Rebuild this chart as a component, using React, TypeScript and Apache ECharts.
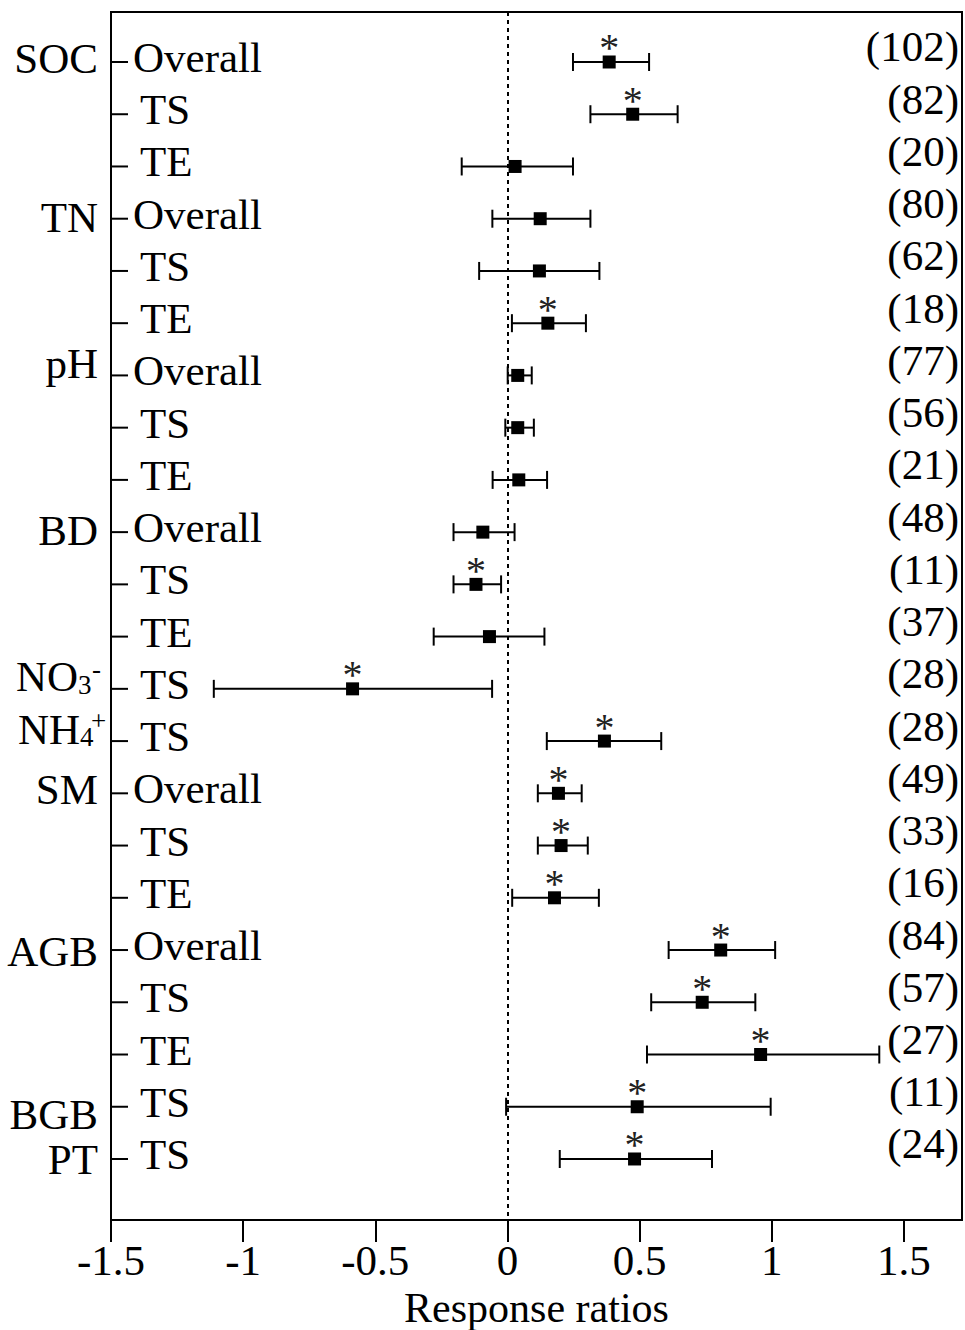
import React, { useEffect, useRef } from 'react';
import * as echarts from 'echarts';

// ---------- data ----------
const rowLabels = ['Overall', 'TS', 'TE', 'Overall', 'TS', 'TE', 'Overall', 'TS', 'TE', 'Overall', 'TS', 'TE', 'TS', 'TS', 'Overall', 'TS', 'TE', 'Overall', 'TS', 'TE', 'TS', 'TS'];
const means = [0.385, 0.474, 0.029, 0.124, 0.121, 0.153, 0.039, 0.039, 0.043, -0.093, -0.119, -0.068, -0.586, 0.367, 0.193, 0.203, 0.178, 0.807, 0.737, 0.958, 0.491, 0.481];
const lowerCI = [0.248, 0.314, -0.173, -0.057, -0.107, 0.017, 0.001, -0.008, -0.056, -0.204, -0.204, -0.279, -1.111, 0.149, 0.115, 0.115, 0.018, 0.61, 0.544, 0.528, -0.005, 0.198];
const upperCI = [0.536, 0.644, 0.248, 0.314, 0.348, 0.297, 0.092, 0.1, 0.15, 0.027, -0.024, 0.14, -0.058, 0.582, 0.281, 0.304, 0.346, 1.013, 0.938, 1.407, 0.996, 0.774];
const sampleSizes = [102, 82, 20, 80, 62, 18, 77, 56, 21, 48, 11, 37, 28, 28, 49, 33, 16, 84, 57, 27, 11, 24];
const significant = [true, true, false, false, false, true, false, false, false, false, true, false, true, true, true, true, true, true, true, true, true, true];
const groupNames = ['SOC', 'TN', 'pH', 'BD', 'NO', 'NH', 'SM', 'AGB', 'BGB', 'PT'];
const groupSubscripts = ['', '', '', '', '3', '4', '', '', '', ''];
const groupSuperscripts = ['', '', '', '', '-', '+', '', '', '', ''];
const groupStartRows = [0, 3, 6, 9, 12, 13, 14, 17, 20, 21];
const xTicks = [-1.5, -1, -0.5, 0, 0.5, 1, 1.5];
const xMin = -1.5;
const xMax = 1.72;
const axisTitle = 'Response ratios';

// ---------- style ----------
const FONT = '"Liberation Serif", "Times New Roman", Times, serif';
const groupLabelShift = [-3, -1, -12, -2, -12, -12, -4, 1, 8, 1];

export default function App() {
  const ref = useRef<HTMLDivElement>(null);

  useEffect(() => {
    if (!ref.current) return;
    const chart = echarts.init(ref.current, undefined, { renderer: 'svg' });

    const rowData = rowLabels.map((_, i) => [lowerCI[i], upperCI[i], means[i], i]);
    const pointData = rowLabels.map((_, i) => [means[i], i]);

    const renderItem = (params: any, api: any) => {
      const i = api.value(3) as number;
      const pLo = api.coord([api.value(0), i]);
      const y = pLo[1];
      const xLo = pLo[0];
      const xHi = api.coord([api.value(1), i])[0];
      const xMean = api.coord([api.value(2), i])[0];
      const gl = params.coordSys.x;
      const gr = params.coordSys.x + params.coordSys.width;
      const ls = { stroke: '#000', lineWidth: 2 };
      const children: any[] = [
        { type: 'line', shape: { x1: xLo, y1: y, x2: xHi, y2: y }, style: ls },
        { type: 'line', shape: { x1: xLo, y1: y - 9, x2: xLo, y2: y + 9 }, style: ls },
        { type: 'line', shape: { x1: xHi, y1: y - 9, x2: xHi, y2: y + 9 }, style: ls },
        { type: 'line', shape: { x1: gl, y1: y, x2: gl + 17, y2: y }, style: ls },
        {
          type: 'text', x: gl + (rowLabels[i] === 'Overall' ? 22 : 29), y: y - 4.5,
          style: { text: rowLabels[i], fontSize: 43, fontFamily: FONT, fill: '#000', align: 'left', verticalAlign: 'middle' },
        },
        {
          type: 'text', x: gr - 3, y: y - 15,
          style: { text: '(' + sampleSizes[i] + ')', fontSize: 43, fontFamily: FONT, fill: '#000', align: 'right', verticalAlign: 'middle' },
        },
      ];
      if (significant[i]) {
        children.push({
          type: 'text', x: xMean, y: y - 14,
          style: { text: '*', fontSize: 40, fontFamily: FONT, fill: '#222', align: 'center', verticalAlign: 'middle' },
        });
      }
      const g = groupStartRows.indexOf(i);
      if (g >= 0) {
        const gy = y + groupLabelShift[g];
        if (groupSubscripts[g]) {
          const baseRight = g === 4 ? gl - 33 : gl - 31;
          children.push({
            type: 'text', x: baseRight, y: gy,
            style: { text: groupNames[g], fontSize: 43, fontFamily: FONT, fill: '#000', align: 'right', verticalAlign: 'middle' },
          });
          children.push({
            type: 'text', x: baseRight, y: gy + 8,
            style: { text: groupSubscripts[g], fontSize: 27, fontFamily: FONT, fill: '#000', align: 'left', verticalAlign: 'middle' },
          });
          children.push({
            type: 'text', x: g === 4 ? gl - 19 : gl - 20, y: gy - 8,
            style: { text: groupSuperscripts[g], fontSize: 27, fontFamily: FONT, fill: '#000', align: 'left', verticalAlign: 'middle' },
          });
        } else {
          children.push({
            type: 'text', x: gl - 13, y: gy,
            style: { text: groupNames[g], fontSize: 43, fontFamily: FONT, fill: '#000', align: 'right', verticalAlign: 'middle' },
          });
        }
      }
      return { type: 'group', children };
    };

    chart.setOption({
      animation: false,
      backgroundColor: '#fff',
      grid: {
        left: 111, right: 3, top: 12, bottom: 110,
        show: true, borderColor: '#000', borderWidth: 2, backgroundColor: 'transparent',
        containLabel: false,
        outerBoundsMode: 'none',
      },
      xAxis: {
        type: 'value',
        min: xMin,
        max: xMax,
        interval: 0.5,
        name: axisTitle,
        nameLocation: 'middle',
        nameGap: 53,
        nameTextStyle: { fontSize: 42, fontFamily: FONT, color: '#000', lineHeight: 42 },
        axisLine: { show: true, onZero: false, lineStyle: { color: '#000', width: 2 } },
        axisTick: { show: true, inside: false, length: 22, lineStyle: { color: '#000', width: 2 }, customValues: xTicks },
        axisLabel: {
          show: true, margin: 19, fontSize: 43, fontFamily: FONT, color: '#000', lineHeight: 43,
          customValues: xTicks,
          formatter: (v: number) => String(v),
        },
        splitLine: { show: false },
      },
      yAxis: {
        type: 'value',
        min: -0.957,
        max: 22.168,
        inverse: true,
        show: false,
        axisLine: { onZero: false },
        splitLine: { show: false },
      },
      series: [
        {
          type: 'custom',
          clip: false,
          z: 2,
          data: rowData,
          encode: { x: [0, 1, 2], y: 3 },
          renderItem,
          silent: true,
        },
        {
          type: 'scatter',
          z: 3,
          symbol: 'rect',
          symbolSize: 13,
          itemStyle: { color: '#000', opacity: 1 },
          data: pointData,
          silent: true,
          markLine: {
            silent: true,
            symbol: 'none',
            label: { show: false },
            lineStyle: { color: '#000', width: 2, type: [4, 4], opacity: 1 },
            data: [{ xAxis: 0 }],
          },
        },
      ],
    });

    return () => chart.dispose();
  }, []);

  return (
    <div
      ref={ref}
      style={{ position: 'absolute', left: 0, top: 0, width: 965, height: 1330, background: '#fff' }}
    />
  );
}
